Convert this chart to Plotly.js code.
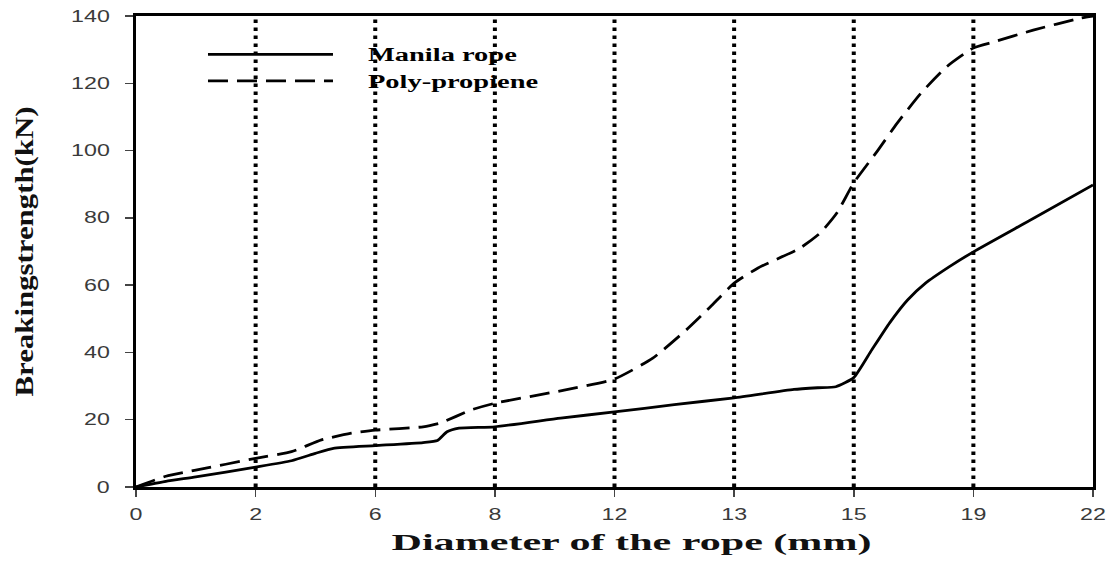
<!DOCTYPE html>
<html>
<head>
<meta charset="utf-8">
<script src="https://cdn.plot.ly/plotly-3.0.1.min.js"></script>
<style>
  html, body { margin: 0; padding: 0; background: #ffffff; }
  #chart { width: 1118px; height: 571px; }
</style>
</head>
<body>
<div id="chart"></div>
<script>
// Tick categories (diameter, mm) placed at evenly spaced slots
const xSlots = [0, 1, 2, 3, 4, 5, 6, 7, 8];
const xLabels = ['0', '2', '6', '8', '12', '13', '15', '19', '22'];
const yTicks = [0, 20, 40, 60, 80, 100, 120, 140];
// Slots that carry a vertical dotted reference line
const refSlots = [1, 2, 3, 4, 5, 6, 7];
const yRange = [0, 140];

// Manila rope curve (x in slot units, y in kN)
const manilaX = [0, 0.25, 0.5, 1, 1.3, 1.5, 1.65, 2, 2.4, 2.52, 2.6, 2.7, 3, 3.55, 4, 4.5, 5, 5.5, 5.7, 5.85, 6, 6.15, 6.3, 6.45, 6.6, 6.8, 7, 7.5, 8];
const manilaY = [0, 1.7, 3.0, 5.9, 7.8, 10, 11.5, 12.3, 13.2, 13.8, 16.4, 17.5, 17.9, 20.5, 22.3, 24.5, 26.5, 29.0, 29.5, 29.8, 32.5, 40.7, 48.8, 55.6, 60.6, 65.5, 69.9, 79.8, 89.8];

// Poly-propiene curve
const polyX = [0, 0.25, 0.5, 1, 1.3, 1.55, 1.8, 2, 2.4, 2.55, 2.8, 3, 3.58, 4, 4.32, 4.6, 4.8, 5, 5.2, 5.55, 5.72, 5.86, 6, 6.2, 6.36, 6.56, 6.78, 7, 7.17, 7.5, 7.9, 8];
const polyY = [0, 3.2, 5, 8.5, 10.5, 14, 16, 16.9, 17.9, 19.1, 22.9, 24.9, 28.8, 32.1, 38.3, 46.7, 53.5, 60.6, 65.1, 71, 75.5, 81.5, 90.4, 100, 108, 117, 125, 130.5, 132.3, 135.8, 139.4, 140];

const serif = 'Liberation Serif, Times New Roman, serif';
const sans = 'Liberation Sans, Arial, sans-serif';

// vertical dotted lines built from refSlots
const vx = [], vy = [];
refSlots.forEach(function (s) { vx.push(s, s, null); vy.push(yRange[0], yRange[1], null); });

const traces = [
  {
    x: vx, y: vy, type: 'scatter', mode: 'lines', showlegend: false, hoverinfo: 'skip',
    line: { color: '#000000', width: 4, dash: '3.5px,4.5px' }
  },
  {
    x: manilaX, y: manilaY, name: 'Manila rope', type: 'scatter', mode: 'lines',
    line: { color: '#000000', width: 2.8, shape: 'spline', smoothing: 0.5 }
  },
  {
    x: polyX, y: polyY, name: 'Poly-propiene', type: 'scatter', mode: 'lines',
    line: { color: '#000000', width: 2.8, dash: '20px,9px', shape: 'spline', smoothing: 0.5 }
  }
];

const layout = {
  width: 1118, height: 571,
  margin: { l: 136, r: 25, t: 16, b: 84 },
  paper_bgcolor: '#ffffff', plot_bgcolor: '#ffffff',
  showlegend: true,
  legend: {
    x: 0.07, y: 0.957, xanchor: 'left', yanchor: 'top',
    bgcolor: 'rgba(0,0,0,0)', borderwidth: 0,
    itemwidth: 125, tracegroupgap: 0,
    font: { family: serif, size: 18, color: '#000000', weight: 'bold' }
  },
  xaxis: {
    range: [0, 8], tickmode: 'array', tickvals: xSlots, ticktext: xLabels,
    showline: true, linecolor: '#000000', linewidth: 3, mirror: true,
    ticks: 'outside', ticklen: 7, tickwidth: 1.5, tickcolor: '#444444',
    ticklabelstandoff: 4,
    showgrid: false, zeroline: false,
    tickfont: { family: sans, size: 16, color: '#3a3a3a' },
    title: { text: 'Diameter of the rope (mm)', standoff: 12,
             font: { family: serif, size: 23, color: '#111111', weight: 'bold' } }
  },
  yaxis: {
    range: yRange, tickmode: 'array', tickvals: yTicks,
    showline: true, linecolor: '#000000', linewidth: 3, mirror: true,
    ticks: 'outside', ticklen: 8, tickwidth: 1.5, tickcolor: '#444444',
    ticklabelstandoff: 12,
    showgrid: false, zeroline: false,
    tickfont: { family: sans, size: 16, color: '#3a3a3a' },
    title: { text: 'Breakingstrength(kN)', standoff: 42,
             font: { family: serif, size: 26, color: '#111111', weight: 'bold' } }
  }
};

Plotly.newPlot('chart', traces, layout, { staticPlot: true, displayModeBar: false }).then(function (gd) {
  function stretch(el, factor, fixed) {
    try {
      const w = el.getComputedTextLength();
      if (!w) return;
      el.setAttribute('lengthAdjust', 'spacingAndGlyphs');
      el.setAttribute('textLength', String(fixed ? fixed : w * factor));
    } catch (e) {}
  }
  gd.querySelectorAll('.xtick text, .ytick text').forEach(function (t) { stretch(t, 1.45); });
  gd.querySelectorAll('.legend [clip-path]').forEach(function (e) { e.removeAttribute('clip-path'); });
  gd.querySelectorAll('.legendtext').forEach(function (t) {
    stretch(t, 1.58);
    const x = parseFloat(t.getAttribute('x') || '0');
    t.setAttribute('x', String(x + 30));
  });
  const xt = gd.querySelector('.xtitle');
  if (xt) {
    stretch(xt, 1, 480);
    const x = parseFloat(xt.getAttribute('x') || '0');
    xt.setAttribute('x', String(x + 17));
  }
  const yt = gd.querySelector('.ytitle');
  if (yt) { stretch(yt, 1, 290); }
});
</script>
</body>
</html>
